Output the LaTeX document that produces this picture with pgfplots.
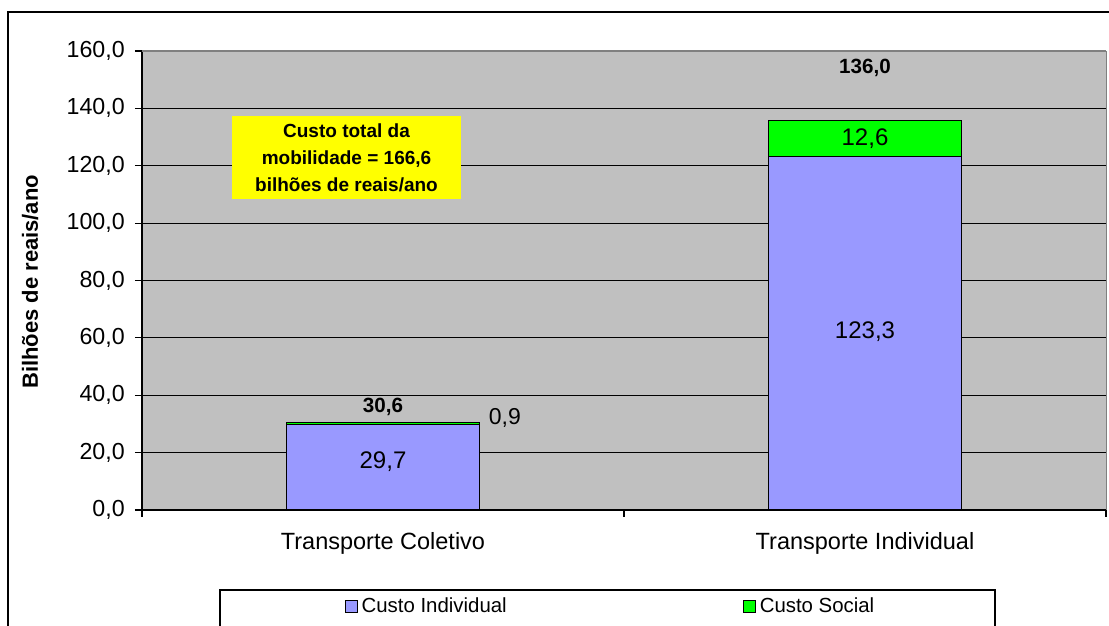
\documentclass[border=0pt]{standalone}
\usepackage{fontspec}
\setmainfont{Liberation Sans}
\usepackage{pgfplots}
\pgfplotsset{compat=1.18}
\definecolor{plotbg}{HTML}{C0C0C0}
\definecolor{custoind}{HTML}{9999FF}
\definecolor{custosoc}{HTML}{00FF00}
\definecolor{caixa}{HTML}{FFFF00}

\begin{document}
\begin{tikzpicture}
\useasboundingbox (-71pt,-58pt) rectangle (483.5pt,255pt);
\clip (-71pt,-58pt) rectangle (483.5pt,255pt);
% moldura externa e caixa da legenda (cortadas como no original)
\draw[black, line width=0.6pt] (-67pt,249pt) rectangle (500pt,-80pt);
\draw[black, fill=white, line width=0.6pt] (39pt,-40pt) rectangle (426.5pt,-80pt);
\begin{axis}[
  at={(0pt,0pt)}, anchor=south west,
  scale only axis, width=482pt, height=229.5pt,
  xmin=0, xmax=2, ymin=0, ymax=160,
  ybar stacked, bar width=0.4,
  axis background/.style={fill=plotbg, draw=gray},
  axis x line*=bottom, axis y line*=left,
  axis line style={black, line width=0.6pt},
  tick align=outside,
  major tick length=3.5pt, minor tick length=3.5pt,
  tick style={black, line width=0.6pt},
  ytick={0,20,...,160},
  yticklabel style={font=\fontsize{11.6}{13}\selectfont, xshift=-1.6pt},
  /pgf/number format/.cd, fixed, fixed zerofill, precision=1, use comma, assume math mode=true,
  /pgfplots/.cd,
  xtick={0.5,1.5},
  xticklabels={Transporte Coletivo, Transporte Individual},
  minor xtick={0,1,2},
  major x tick style={draw=none},
  xticklabel style={font=\fontsize{11.75}{14}\selectfont, yshift=-4pt},
  ymajorgrids,
  major grid style={black, line width=0.5pt},
  ylabel={Bilhões de reais/ano},
  ylabel style={font=\bfseries\fontsize{11}{13}\selectfont, at={(axis description cs:-0.116,0.497)}, anchor=center},
  legend columns=2,
  legend style={draw=none, fill=none, at={(axis description cs:0.487,-0.2113)}, anchor=center,
    inner sep=0pt, font=\fontsize{10.2}{12}\selectfont,
    /tikz/every even column/.append style={column sep=116pt}},
  legend image code/.code={\draw[#1, line width=0.5pt] (0pt,-3pt) rectangle (6pt,3pt);},
]
\addplot[fill=custoind, draw=black, line width=0.5pt] coordinates {(0.5,29.7) (1.5,123.3)};
\addlegendentry{Custo Individual}
\addplot[fill=custosoc, draw=black, line width=0.35pt] coordinates {(0.5,0.9) (1.5,12.6)};
\addlegendentry{Custo Social}

\coordinate (topoL) at (rel axis cs:0,1);
\coordinate (topoR) at (rel axis cs:1,1);
\coordinate (r1) at (axis cs:0.5,16.7);
\coordinate (r2) at (axis cs:0.5,35.9);
\coordinate (r3) at (axis cs:0.753,32.1);
\coordinate (r4) at (axis cs:1.5,62.0);
\coordinate (r5) at (axis cs:1.5,129.3);
\coordinate (r6) at (axis cs:1.5,154.1);
\end{axis}
\draw[gray, line width=0.6pt] (topoL) -- (topoR);
\node[font=\fontsize{12}{14}\selectfont] at (r1) {29,7};
\node[font=\bfseries\fontsize{10.3}{12}\selectfont] at (r2) {30,6};
\node[font=\fontsize{11.5}{14}\selectfont] at (r3) {0,9};
\node[font=\fontsize{12}{14}\selectfont] at (r4) {123,3};
\node[font=\fontsize{12}{14}\selectfont] at (r5) {12,6};
\node[font=\bfseries\fontsize{10.3}{12}\selectfont] at (r6) {136,0};
\node[fill=caixa, minimum width=114.5pt, minimum height=41.5pt, inner sep=0pt, align=center,
  font=\bfseries\fontsize{9.5}{13.5}\selectfont] at (102.25pt,176.25pt)
  {Custo total da\\mobilidade = 166,6\\bilhões de reais/ano};
\end{tikzpicture}
\end{document}
